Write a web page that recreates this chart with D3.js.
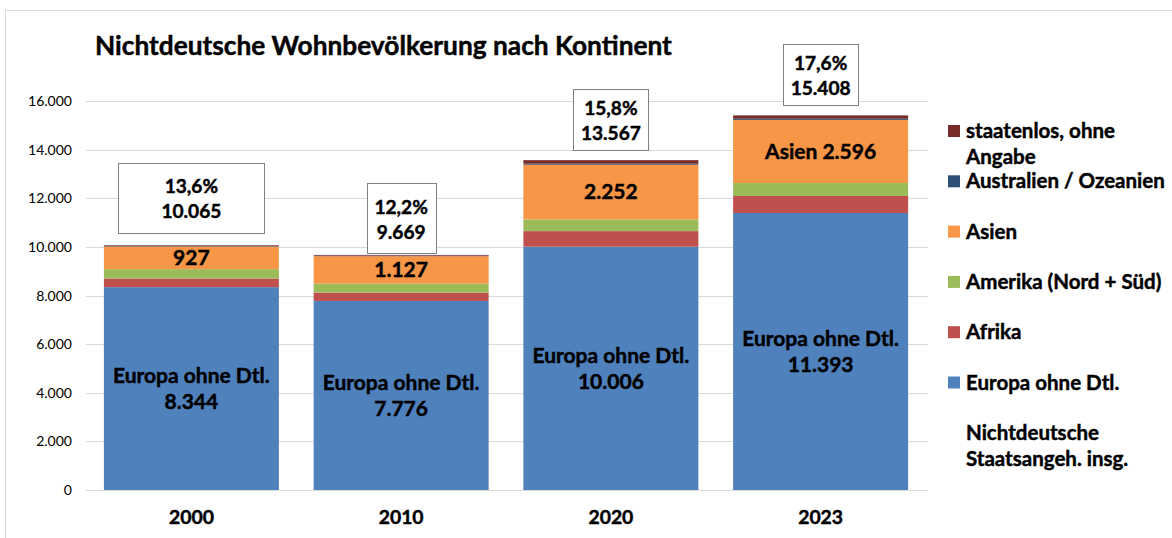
<!DOCTYPE html>
<html>
<head>
<meta charset="utf-8">
<script src="https://cdn.jsdelivr.net/npm/d3@7"></script>
<style>
  html, body { margin: 0; padding: 0; background: #fff; }
  svg { display: block; }
  .heavy { stroke: #000; stroke-width: 0.45px; paint-order: stroke; }
</style>
</head>
<body>
<svg id="chart" width="1172" height="538"></svg>
<script>
// ---------- data ----------
const years = ["2000", "2010", "2020", "2023"];
const europa = [8344, 7776, 10006, 11393];
const afrika = [355, 345, 642, 700];
const amerika = [385, 370, 481, 535];
const asien = [927, 1127, 2252, 2596];
const australien = [20, 22, 40, 45];
const staatenlos = [34, 29, 146, 139];
const totals = [10065, 9669, 13567, 15408];
const percents = [13.6, 12.2, 15.8, 17.6];
const yTicks = [0, 2000, 4000, 6000, 8000, 10000, 12000, 14000, 16000];
const seriesNames = ["Europa ohne Dtl.", "Afrika", "Amerika (Nord + Süd)", "Asien", "Australien / Ozeanien", "staatenlos, ohne Angabe"];
const totalName = "Nichtdeutsche Staatsangeh. insg.";
const title = "Nichtdeutsche Wohnbevölkerung nach Kontinent";
const asienWithName = [false, false, false, true];

// ---------- styling / layout ----------
const colors = ["#4F81BD", "#C0504D", "#9BBB59", "#F79646", "#2C4D75", "#772C2A"];
const FONT = "Lato, 'Open Sans', 'DejaVu Sans', sans-serif";
const boxW = [146, 69, 75, 75];
const boxH = [70, 70, 61, 61];
const boxGap = [12, 1.5, 10, 10];

const svg = d3.select("#chart");
const loc = d3.formatLocale({decimal: ",", thousands: ".", grouping: [3], currency: ["", "€"]});
const fmtInt = loc.format(",d");
const fmtPct = v => loc.format(".1f")(v) + "%";

function fit(str, weight, target) {
  const t = svg.append("text").attr("font-family", FONT).attr("font-weight", weight)
    .attr("font-size", 100).text(str);
  const w = t.node().getComputedTextLength();
  t.remove();
  return 100 * target / w;
}
const fsTitle = fit(title, "bold", 577);
const fsBar = fit("Europa ohne Dtl.", "bold", 157);
const fsBox = fit("10.065", "bold", 60);
const fsLegend = fit("Australien / Ozeanien", "bold", 199);
const fsYTick = fit("16.000", "normal", 44);
const fsXTick = fit("2000", "bold", 45);

// frame
svg.append("rect").attr("x", 5.5).attr("y", 10.5).attr("width", 1300).attr("height", 700)
  .attr("fill", "#fff").attr("stroke", "#D9D9D9");

// scales
const x = d3.scaleBand().domain(years).range([86.5, 925.5]).paddingInner(0.1657).paddingOuter(0.0829);
const y = d3.scaleLinear().domain([0, 16000]).range([490, 101]);

// gridlines
svg.append("g").selectAll("line").data(yTicks).join("line")
  .attr("x1", 86).attr("x2", 928)
  .attr("y1", d => Math.round(y(d)) + 0.5).attr("y2", d => Math.round(y(d)) + 0.5)
  .attr("stroke", "#D9D9D9").attr("stroke-width", 1);

// y axis labels
const yAxis = d3.axisLeft(y).tickValues(yTicks).tickFormat(d => fmtInt(d)).tickSize(0).tickPadding(0);
const gy = svg.append("g").attr("transform", "translate(72,0)").call(yAxis);
gy.select(".domain").remove();
gy.selectAll("text").attr("font-family", FONT).attr("font-size", fsYTick).attr("fill", "#000");

// x axis labels
const xAxis = d3.axisBottom(x).tickSize(0).tickPadding(0);
const gx = svg.append("g").attr("transform", "translate(0,510)").call(xAxis);
gx.select(".domain").remove();
gx.selectAll("text").attr("font-family", FONT).attr("font-weight", "bold")
  .attr("font-size", fsXTick).attr("fill", "#000").attr("class", "heavy");

// stacked bars
const seriesArrays = [europa, afrika, amerika, asien, australien, staatenlos];
const table = years.map((yr, i) => {
  const o = {year: yr};
  seriesNames.forEach((n, k) => o[n] = seriesArrays[k][i]);
  return o;
});
const stack = d3.stack().keys(seriesNames)(table);
const gBars = svg.append("g");
stack.forEach((s, k) => {
  gBars.append("g").attr("fill", colors[k]).selectAll("rect").data(s).join("rect")
    .attr("x", d => x(d.data.year))
    .attr("width", x.bandwidth())
    .attr("y", d => y(d[1]))
    .attr("height", d => y(d[0]) - y(d[1]));
});

// Europa labels
const gLab = svg.append("g").attr("font-family", FONT).attr("font-weight", "bold")
  .attr("font-size", fsBar).attr("text-anchor", "middle").attr("fill", "#000").attr("class", "heavy");
stack[0].forEach((d, i) => {
  const cx = x(d.data.year) + x.bandwidth() / 2;
  const cy = (y(d[0]) + y(d[1])) / 2;
  gLab.append("text").attr("x", cx).attr("y", cy - 13).attr("dy", "0.35em").text(seriesNames[0]);
  gLab.append("text").attr("x", cx).attr("y", cy + 13).attr("dy", "0.35em").text(fmtInt(europa[i]));
});
// Asien labels
stack[3].forEach((d, i) => {
  const cx = x(d.data.year) + x.bandwidth() / 2;
  const cy = (y(d[0]) + y(d[1])) / 2;
  gLab.append("text").attr("x", cx).attr("y", cy).attr("dy", "0.35em")
    .text((asienWithName[i] ? "Asien " : "") + fmtInt(asien[i]));
});

// total boxes
const gBox = svg.append("g");
years.forEach((yr, i) => {
  const cx = x(yr) + x.bandwidth() / 2;
  const bottom = y(totals[i]) - boxGap[i];
  const top = bottom - boxH[i];
  gBox.append("rect").attr("x", Math.round(cx - boxW[i] / 2) + 0.5).attr("y", Math.round(top) + 0.5)
    .attr("width", boxW[i]).attr("height", boxH[i])
    .attr("fill", "#fff").attr("stroke", "#7F7F7F").attr("stroke-width", 1);
  const cy = top + boxH[i] / 2 + 1;
  const t = gBox.append("g").attr("font-family", FONT).attr("font-weight", "bold")
    .attr("font-size", fsBox).attr("text-anchor", "middle").attr("fill", "#000").attr("class", "heavy");
  t.append("text").attr("x", cx).attr("y", cy - 12.5).attr("dy", "0.35em").text(fmtPct(percents[i]));
  t.append("text").attr("x", cx).attr("y", cy + 12.5).attr("dy", "0.35em").text(fmtInt(totals[i]));
});

// title
svg.append("text").attr("x", 95).attr("y", 55).attr("font-family", FONT).attr("font-weight", "bold")
  .attr("font-size", fsTitle).attr("fill", "#000").attr("class", "heavy").text(title);

// legend (top to bottom: reversed order of stack), plus total entry without swatch
const legendItems = seriesNames.map((n, k) => ({name: n, color: colors[k]})).reverse();
legendItems.push({name: totalName, color: null});
const legendLines = {
  "staatenlos, ohne Angabe": ["staatenlos, ohne", "Angabe"],
  "Nichtdeutsche Staatsangeh. insg.": ["Nichtdeutsche", "Staatsangeh. insg."]
};
const gLeg = svg.append("g").attr("font-family", FONT).attr("font-weight", "bold")
  .attr("font-size", fsLegend).attr("fill", "#000").attr("class", "heavy");
legendItems.forEach((it, j) => {
  const cy = 131 + j * 50.3;
  if (it.color) {
    gLeg.append("rect").attr("x", 948).attr("y", cy - 6).attr("width", 12).attr("height", 12)
      .attr("fill", it.color).attr("stroke", "none");
  }
  const lines = legendLines[it.name] || [it.name];
  lines.forEach((ln, m) => {
    gLeg.append("text").attr("x", 966).attr("y", cy + m * 26).attr("dy", "0.35em").text(ln);
  });
});
</script>
</body>
</html>
